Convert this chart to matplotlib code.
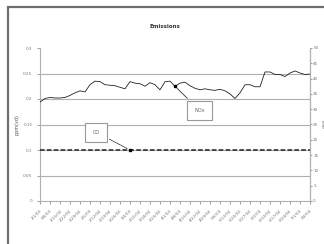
import matplotlib
matplotlib.use("Agg")
import matplotlib.pyplot as plt
from matplotlib.patches import Rectangle

# ---- data ----
dates = ["1/1/04", "1/8/04", "1/15/04", "1/22/04", "1/29/04", "2/5/04", "2/12/04",
         "2/19/04", "2/26/04", "3/4/04", "3/11/04", "3/18/04", "3/25/04", "4/1/04",
         "4/8/04", "4/15/04", "4/22/04", "4/29/04", "5/6/04", "5/13/04", "5/20/04",
         "5/27/04", "6/3/04", "6/10/04", "6/17/04", "6/24/04", "7/1/04", "7/8/04"]
nox = [0.194, 0.201, 0.203, 0.202, 0.202, 0.203, 0.207, 0.212, 0.216, 0.214,
       0.228, 0.235, 0.234, 0.228, 0.227, 0.226, 0.223, 0.220, 0.234, 0.231,
       0.230, 0.225, 0.232, 0.228, 0.218, 0.234, 0.235, 0.225, 0.231, 0.233,
       0.226, 0.221, 0.218, 0.220, 0.218, 0.217, 0.219, 0.216, 0.210, 0.201,
       0.212, 0.228, 0.228, 0.224, 0.224, 0.253, 0.253, 0.248, 0.248, 0.244,
       0.251, 0.255, 0.251, 0.248, 0.249]
co = [0.1] * len(nox)
left_ticks = [0, 0.05, 0.1, 0.15, 0.2, 0.25, 0.3]
right_ticks = [0, 5, 10, 15, 20, 25, 30, 35, 40, 45, 50]

W, H = 324, 244
fig = plt.figure(figsize=(W / 100, H / 100), dpi=100)
fig.patch.set_facecolor("white")

# chart area border (dark gray, extends past right/bottom edges)
fig.patches.append(Rectangle((8 / W, -0.05), 1.1, 1 - 7 / H + 0.05,
                             transform=fig.transFigure, fill=False,
                             edgecolor="#6e6e6e", linewidth=1.6))

ax = fig.add_axes([40 / W, 1 - 201 / H, 270 / W, 153 / H])
x = list(range(len(nox)))
ax.plot(x, nox, color="#222222", linewidth=0.6, zorder=3)
ax.plot(x, co, color="#222222", linewidth=1.1, linestyle=(0, (3, 1.5)), zorder=3)

ax.set_xlim(0, len(nox) - 1)
ax.set_ylim(0, 0.3)
ax.set_yticks(left_ticks)
ax.set_yticklabels([str(v) for v in left_ticks])
for v in left_ticks[1:-1]:
    ax.axhline(v, color="#b0b0b0", linewidth=0.8, zorder=1)

ax.set_xticks(list(range(0, len(nox), 2)))
ax.set_xticklabels(dates, rotation=45, ha="right", rotation_mode="anchor")
ax.tick_params(axis="both", labelsize=3.0, colors="#777777", length=2, width=0.5)

ax.spines["top"].set_visible(False)
for s in ["left", "right", "bottom"]:
    ax.spines[s].set_color("#b0b0b0")
    ax.spines[s].set_linewidth(0.8)

ax.set_ylabel("ppm(vd)", fontsize=3.5, color="#555555", labelpad=3)

ax2 = ax.twinx()
ax2.set_ylim(0, 50)
ax2.set_yticks(right_ticks)
ax2.set_yticklabels([str(v) for v in right_ticks])
ax2.tick_params(axis="y", labelsize=3.0, colors="#777777", length=1.5, width=0.5, pad=0.8)
for s in ["top", "left", "bottom"]:
    ax2.spines[s].set_visible(False)
ax2.spines["right"].set_color("#b0b0b0")
ax2.spines["right"].set_linewidth(0.8)
fig.text(321.6 / W, 1 - 125 / H, "lb/hr", fontsize=2.8, color="#555555",
         rotation=270, ha="center", va="center")

# markers and callouts
ax.plot([18], [co[18]], marker="s", color="black", markersize=1.8, zorder=4)
ax.plot([27], [nox[27]], marker="s", color="black", markersize=1.8, zorder=4)
ax.annotate("CO", xy=(18, co[18]), xytext=(11.2, 0.135), fontsize=3.6,
            color="#666666", ha="center", va="center",
            bbox=dict(boxstyle="square,pad=1.4", fc="white", ec="#999999", lw=0.8),
            arrowprops=dict(arrowstyle="-", color="#333333", lw=0.6,
                            linestyle=(0, (1.5, 1))), zorder=5)
ax.annotate("NOx", xy=(27, nox[27]), xytext=(31.9, 0.178), fontsize=3.6,
            color="#666666", ha="center", va="center",
            bbox=dict(boxstyle="square,pad=1.4", fc="white", ec="#999999", lw=0.8),
            arrowprops=dict(arrowstyle="-", color="#333333", lw=0.6), zorder=5)

fig.text(165 / W, 1 - 26 / H, "Emissions", fontsize=4, fontweight="bold",
         color="#333333", ha="center", va="center")

fig.savefig("out.png", dpi=100)
